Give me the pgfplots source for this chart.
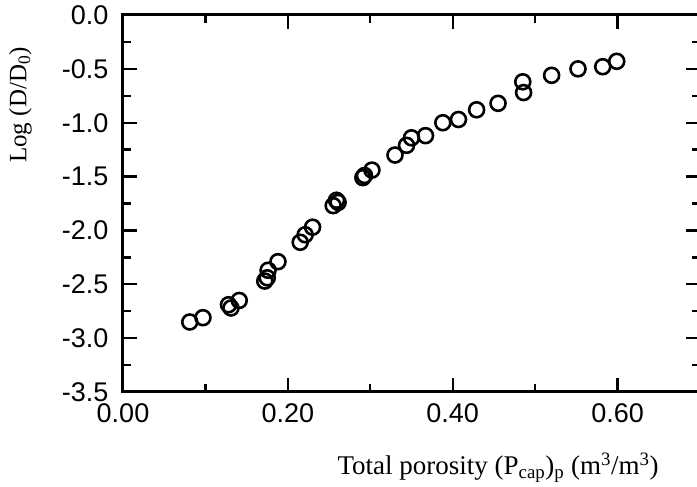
\documentclass[border=0pt]{standalone}
\usepackage{fontspec}
\setmainfont{Liberation Serif}
\newfontfamily\ticksans{Liberation Sans}
\usepackage{pgfplots}
\pgfplotsset{compat=1.18}

\begin{document}
\begin{tikzpicture}
    % page = 697 x 487, axis box from (0,0) to (577,377)
    \useasboundingbox (-123pt,-95pt) rectangle (574pt,392pt);
    \clip (-123pt,-95pt) rectangle (574pt,392pt);
    \begin{axis}[
        scale only axis,
        width=577pt,
        height=377pt,
        xmin=0, xmax=0.7,
        ymin=-3.5, ymax=0,
        xtick={0,0.2,0.4,0.6},
        xticklabels={0.00,0.20,0.40,0.60},
        minor xtick={0.1,0.3,0.5},
        ytick={-3.5,-3,-2.5,-2,-1.5,-1,-0.5,0},
        yticklabels={-3.5,-3.0,-2.5,-2.0,-1.5,-1.0,-0.5,0.0},
        minor y tick num=1,
        tick align=inside,
        major tick length=14pt,
        minor tick length=8pt,
        every tick/.style={black, line width=2.4pt},
        axis line style={line width=3pt},
        ticklabel style={font=\ticksans\fontsize{27}{32}\selectfont},
        yticklabel style={xshift=-11pt},
        xticklabel style={yshift=-8pt},
        xlabel={Total porosity (P\textsubscript{cap})\textsubscript{p} (m\textsuperscript{3}/m\textsuperscript{3})},
        ylabel={Log (D/D\textsubscript{0})},
        xlabel style={font=\fontsize{27}{32}\selectfont, at={(axis description cs:0.65,-0.20)}, anchor=center},
        ylabel style={font=\fontsize{25}{30}\selectfont, at={(axis description cs:-0.178,0.761)}, anchor=center},
    ]
    \addplot[only marks, mark=o, mark size=7.5pt, mark options={line width=2.6pt, black}] coordinates {
        (0.081,-2.85) (0.097,-2.81) (0.128,-2.69) (0.131,-2.72) (0.141,-2.65)
        (0.172,-2.47) (0.175,-2.44) (0.176,-2.37) (0.188,-2.29)
        (0.215,-2.11) (0.221,-2.04) (0.230,-1.97)
        (0.255,-1.77) (0.259,-1.72) (0.261,-1.74)
        (0.291,-1.51) (0.293,-1.49) (0.302,-1.44) (0.330,-1.30)
        (0.344,-1.21) (0.350,-1.14) (0.367,-1.12) (0.388,-1.00)
        (0.407,-0.97) (0.429,-0.88) (0.455,-0.82)
        (0.485,-0.62) (0.486,-0.72) (0.520,-0.56) (0.552,-0.50)
        (0.582,-0.48) (0.599,-0.43)
    };
    \end{axis}
\end{tikzpicture}
\end{document}
